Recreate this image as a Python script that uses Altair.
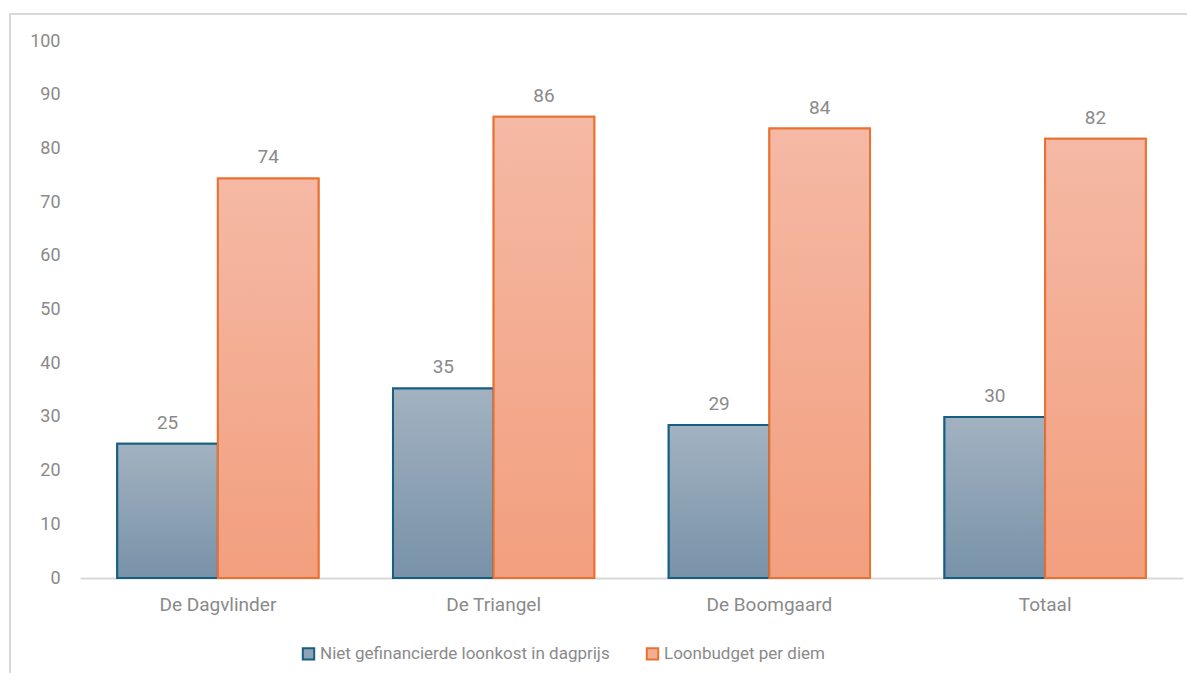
import altair as alt
import pandas as pd

categories = ["De Dagvlinder", "De Triangel", "De Boomgaard", "Totaal"]
series_names = ["Niet gefinancierde loonkost in dagprijs", "Loonbudget per diem"]
niet_gefinancierd = [25.0, 35.3, 28.5, 30.0]
loonbudget = [74.4, 85.9, 83.7, 81.8]

rows = []
for c, a, b in zip(categories, niet_gefinancierd, loonbudget):
    rows.append({"cat": c, "series": series_names[0], "value": a})
    rows.append({"cat": c, "series": series_names[1], "value": b})
df = pd.DataFrame(rows)

FONT = "Roboto"
GRAY = "#8a8a8a"

blue_grad = alt.Gradient(gradient="linear", x1=0, y1=0, x2=0, y2=1,
                         stops=[alt.GradientStop(offset=0, color="#a2b2c1"),
                                alt.GradientStop(offset=1, color="#7892a8")])
orange_grad = alt.Gradient(gradient="linear", x1=0, y1=0, x2=0, y2=1,
                           stops=[alt.GradientStop(offset=0, color="#f5b9a5"),
                                  alt.GradientStop(offset=1, color="#f29f7e")])

x_enc = alt.X("cat:N", sort=categories, title=None,
              scale=alt.Scale(paddingInner=0.27, paddingOuter=0.135),
              axis=alt.Axis(labelAngle=0, labelFont=FONT, labelFontSize=19, labelColor=GRAY,
                            labelPadding=17, ticks=False, domainColor="#d9d9d9", domainWidth=2))
xoff = alt.XOffset("series:N", sort=series_names, scale=alt.Scale(paddingInner=0, paddingOuter=0))
y_enc = alt.Y("value:Q", title=None,
              scale=alt.Scale(domain=[0, 100], nice=False),
              axis=alt.Axis(values=list(range(0, 101, 10)), grid=False, domain=False, ticks=False,
                            labelFont=FONT, labelFontSize=18, labelColor=GRAY, labelPadding=20))

stroke_scale = alt.Scale(domain=series_names, range=["#156082", "#e97132"])
fill_scale = alt.Scale(domain=series_names, range=["#8ea3b6", "#f3ad92"])

legend_kw = dict(title=None, orient="none", legendX=220, legendY=604,
                 direction="horizontal", symbolType="square", symbolSize=130,
                 symbolStrokeWidth=2, labelFont=FONT, labelFontSize=17,
                 labelColor=GRAY, columnPadding=32, labelOffset=3, labelLimit=400)

base_bars = alt.Chart(df).mark_bar(strokeWidth=2).encode(
    x=x_enc, xOffset=xoff, y=y_enc,
    fill=alt.Fill("series:N", scale=fill_scale, sort=series_names, legend=alt.Legend(**legend_kw)),
    stroke=alt.Stroke("series:N", scale=stroke_scale, sort=series_names, legend=alt.Legend(**legend_kw)),
)

grad_bars = alt.Chart(df).mark_bar(strokeWidth=2).encode(
    x=x_enc, xOffset=xoff, y=y_enc,
    fill=alt.condition(alt.datum.series == series_names[0], alt.value(blue_grad), alt.value(orange_grad)),
    stroke=alt.Stroke("series:N", scale=stroke_scale, sort=series_names, legend=None),
)

labels = alt.Chart(df).mark_text(font=FONT, fontSize=19, color=GRAY, baseline="bottom", dy=-11).encode(
    x=x_enc, xOffset=xoff, y=y_enc,
    text=alt.Text("value:Q", format=".0f"),
)

border = alt.Chart(pd.DataFrame({"a": [0]})).mark_rect(
    fill=None, stroke="#d9d9d9", strokeWidth=2, clip=False
).encode(x=alt.value(-70), x2=alt.value(1200), y=alt.value(-27), y2=alt.value(700))

chart = alt.layer(border, base_bars, grad_bars, labels).properties(
    width=1103, height=537,
    autosize=alt.AutoSizeParams(type="none"),
    padding={"left": 72, "top": 33, "right": 4, "bottom": 95},
).configure(background="white").configure_view(stroke=None, strokeWidth=0)

chart.save("out.html", embed_options={"renderer": "svg", "actions": False})
